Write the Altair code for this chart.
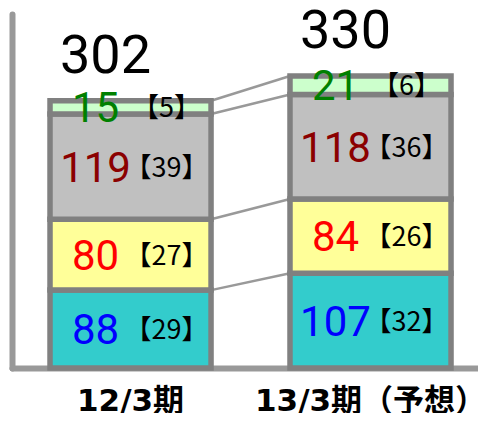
import altair as alt
import pandas as pd

# ---- data ----
periods = ["12/3期", "13/3期（予想）"]
segment_keys = ["s1", "s2", "s3", "s4"]          # bottom -> top
values_12 = [88, 80, 119, 15]
values_13 = [107, 84, 118, 21]
shares_12 = [29, 27, 39, 5]
shares_13 = [32, 26, 36, 6]
totals = [302, 330]

fill_colors = ["#33CCCC", "#FFFF99", "#C0C0C0", "#CCFFCC"]
label_colors = ["#0000FF", "#FF0000", "#8B0000", "#008000"]

# ---- tables ----
rows = []
for p, vals, shs in [(periods[0], values_12, shares_12), (periods[1], values_13, shares_13)]:
    for i, (k, v, s) in enumerate(zip(segment_keys, vals, shs)):
        rows.append({"period": p, "seg": k, "order": i, "value": v, "share": f"【{s}】"})
df = pd.DataFrame(rows)

df_tot = pd.DataFrame({"period": periods, "total": totals})

cum12 = pd.Series(values_12).cumsum().tolist()
cum13 = pd.Series(values_13).cumsum().tolist()
df_lines = pd.DataFrame({"p1": [periods[0]] * 4, "p2": [periods[1]] * 4,
                         "ya": cum12, "yb": cum13})

xscale = alt.Scale(domain=periods, paddingInner=0.329, paddingOuter=0.1354, align=0.585)
yscale = alt.Scale(domain=[0, 400], nice=False, zero=True)

xaxis = alt.Axis(title=None, labelAngle=0, labelFont="DejaVu Sans, Noto Sans CJK JP", labelFontSize=31,
                 labelFontWeight="bold", labelColor="#000000", ticks=False, tickSize=0,
                 labelPadding=42, labelBaseline="alphabetic", labelLimit=400,
                 labelOverlap=False, domainColor="#999999", domainWidth=6, domainCap="round")
yaxis = alt.Axis(title=None, labels=False, ticks=False, grid=False,
                 domainColor="#999999", domainWidth=6, domainCap="round")

base = alt.Chart(df).transform_stack(
    stack="value", groupby=["period"], as_=["y0", "y1"], sort=[alt.SortField("order")]
).transform_calculate(mid="(datum.y0 + datum.y1) / 2")

lines = alt.Chart(df_lines).mark_rule(color="#999999", strokeWidth=2.5).encode(
    x=alt.X("p1:N", bandPosition=1, scale=xscale, axis=xaxis),
    x2=alt.X2("p2:N", bandPosition=0),
    y=alt.Y("ya:Q", scale=yscale, axis=yaxis),
    y2="yb:Q",
)

bars = base.mark_bar(stroke="#808080", strokeWidth=5.5).encode(
    x=alt.X("period:N", scale=xscale, axis=xaxis),
    y=alt.Y("y0:Q", scale=yscale, axis=yaxis),
    y2="y1:Q",
    color=alt.Color("seg:N", scale=alt.Scale(domain=segment_keys, range=fill_colors), legend=None),
)

val_text = base.mark_text(font="Roboto", fontSize=42, baseline="alphabetic", align="center",
                          dx=-35, dy=15).encode(
    x=alt.X("period:N", scale=xscale, axis=xaxis),
    y=alt.Y("mid:Q", scale=yscale, axis=yaxis),
    text=alt.Text("value:Q"),
    color=alt.Color("seg:N", scale=alt.Scale(domain=segment_keys, range=label_colors), legend=None),
)

share_text = base.mark_text(font="Noto Sans CJK JP", fontSize=27, baseline="alphabetic",
                            align="center", dx=36, dy=10, color="#000000").encode(
    x=alt.X("period:N", scale=xscale, axis=xaxis),
    y=alt.Y("mid:Q", scale=yscale, axis=yaxis),
    text="share:N",
)

tot_text = alt.Chart(df_tot).mark_text(font="Roboto", fontSize=54, baseline="alphabetic",
                                       align="center", dx=-25, dy=-28, color="#000000").encode(
    x=alt.X("period:N", scale=xscale, axis=xaxis),
    y=alt.Y("total:Q", scale=yscale, axis=yaxis),
    text=alt.Text("total:Q"),
)

chart = alt.layer(lines, bars, val_text, share_text, tot_text).resolve_scale(
    color="independent"
).properties(
    width=466, height=354,
    autosize=alt.AutoSizeParams(type="none"),
    padding={"left": 4, "top": 6, "right": 0, "bottom": 45},
).configure_view(stroke=None)

chart.save("out.html", embed_options={"renderer": "svg", "actions": False})
